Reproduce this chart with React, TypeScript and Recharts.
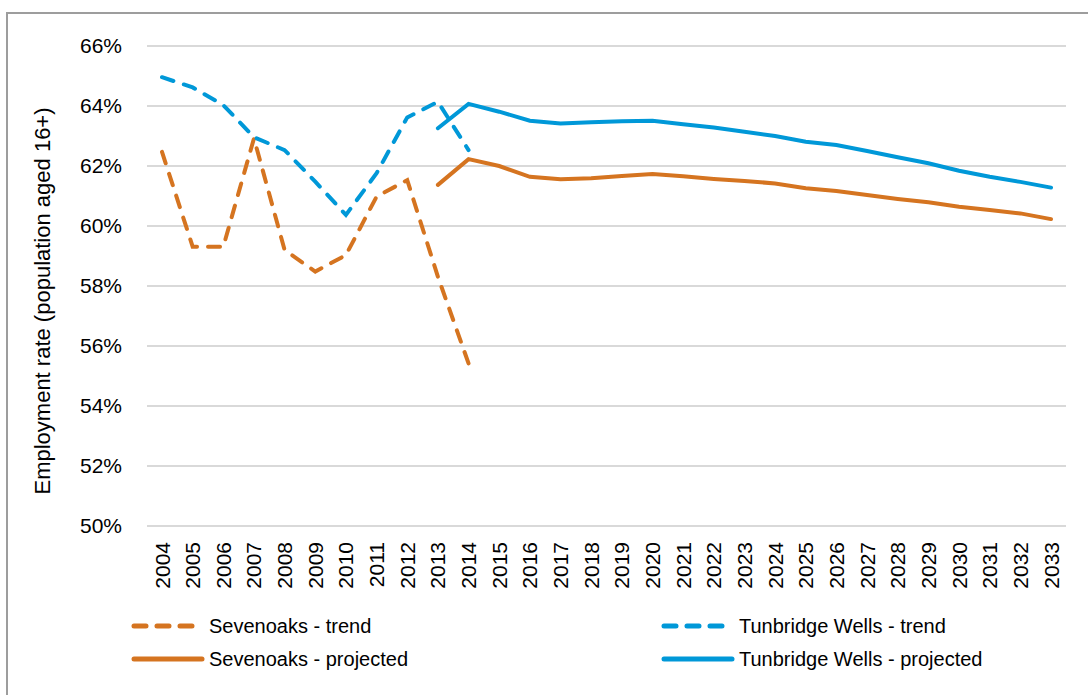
import React from 'react';
import { LineChart, Line, XAxis, YAxis, CartesianGrid, Legend } from 'recharts';

const years = [
  2004, 2005, 2006, 2007, 2008, 2009, 2010, 2011, 2012, 2013, 2014, 2015, 2016, 2017, 2018,
  2019, 2020, 2021, 2022, 2023, 2024, 2025, 2026, 2027, 2028, 2029, 2030, 2031, 2032, 2033,
];

// trend: 2004-2014
const sevenoaksTrend = [62.47, 59.31, 59.31, 62.92, 59.2, 58.48, 59.03, 60.98, 61.53, 58.31, 55.42];
const tunbridgeTrend = [64.96, 64.62, 64.03, 62.96, 62.53, 61.48, 60.37, 61.76, 63.62, 64.14, 62.53];

// projected: 2013-2033
const sevenoaksProjected = [
  61.37, 62.23, 62.0, 61.64, 61.56, 61.59, 61.67, 61.73, 61.66, 61.57, 61.5, 61.42, 61.26, 61.17,
  61.03, 60.9, 60.79, 60.64, 60.53, 60.42, 60.23,
];
const tunbridgeProjected = [
  63.26, 64.07, 63.81, 63.51, 63.42, 63.46, 63.49, 63.51, 63.39, 63.28, 63.14, 63.0, 62.81, 62.7,
  62.5, 62.29, 62.09, 61.84, 61.64, 61.47, 61.28,
];

const yTicks = [50, 52, 54, 56, 58, 60, 62, 64, 66];

const ORANGE = '#D57420';
const BLUE = '#0098D8';
const FONT = '"Liberation Sans", Arial, sans-serif';

const trendStart = 2004;
const projStart = 2013;

const data = years.map((yr) => {
  const ti = yr - trendStart;
  const pi = yr - projStart;
  return {
    year: String(yr),
    sevTrend: ti >= 0 && ti < sevenoaksTrend.length ? sevenoaksTrend[ti] : null,
    tunTrend: ti >= 0 && ti < tunbridgeTrend.length ? tunbridgeTrend[ti] : null,
    sevProj: pi >= 0 && pi < sevenoaksProjected.length ? sevenoaksProjected[pi] : null,
    tunProj: pi >= 0 && pi < tunbridgeProjected.length ? tunbridgeProjected[pi] : null,
  };
});

const legendItems = [
  { label: 'Sevenoaks - trend', color: ORANGE, dashed: true, col: 0, row: 0 },
  { label: 'Tunbridge Wells - trend', color: BLUE, dashed: true, col: 1, row: 0 },
  { label: 'Sevenoaks - projected', color: ORANGE, dashed: false, col: 0, row: 1 },
  { label: 'Tunbridge Wells - projected', color: BLUE, dashed: false, col: 1, row: 1 },
];

const XTick = (props: any) => {
  const { x, y, payload } = props;
  return (
    <text
      x={0}
      y={0}
      transform={`translate(${x},${y}) rotate(-90)`}
      textAnchor="end"
      dominantBaseline="central"
      dx={-8}
      fontSize={21}
      fontFamily={FONT}
      fill="#000"
    >
      {payload.value}
    </text>
  );
};

const LegendContent = () => (
  <svg width={1088} height={80} style={{ display: 'block' }}>
    {legendItems.map((it) => {
      const x0 = it.col === 0 ? 132 : 662;
      const cy = it.row === 0 ? 16 : 49;
      return (
        <g key={it.label}>
          <line
            x1={x0 + 2}
            y1={cy}
            x2={x0 + 70}
            y2={cy}
            stroke={it.color}
            strokeWidth={5}
            strokeLinecap="round"
            strokeDasharray={it.dashed ? '12 11' : undefined}
          />
          <text
            x={x0 + 77}
            y={cy}
            dominantBaseline="central"
            fontSize={20}
            fontFamily={FONT}
            fill="#000"
          >
            {it.label}
          </text>
        </g>
      );
    })}
  </svg>
);

const YLabel = () => (
  <text
    x={42}
    y={301}
    transform="rotate(-90 42 301)"
    textAnchor="middle"
    dominantBaseline="central"
    fontSize={22}
    fontFamily={FONT}
    fill="#000"
  >
    Employment rate (population aged 16+)
  </text>
);

export default function App() {
  return (
    <div
      style={{
        position: 'absolute',
        left: 0,
        top: 0,
        width: 1088,
        height: 695,
        overflow: 'hidden',
        background: '#fff',
      }}
    >
      <div
        style={{
          position: 'absolute',
          left: 6,
          top: 12,
          width: 1080,
          height: 720,
          border: '2px solid #9d9d9d',
        }}
      />
      <div style={{ position: 'absolute', left: 0, top: 0 }}>
        <LineChart
          width={1088}
          height={695}
          data={data}
          margin={{ top: 46, right: 22, left: 0, bottom: 89 }}
        >
          <CartesianGrid vertical={false} stroke="#d9d9d9" strokeWidth={2} />
          <XAxis
            dataKey="year"
            axisLine={false}
            tickLine={false}
            interval={0}
            height={80}
            padding={{ left: 15, right: 15 }}
            tick={<XTick />}
          />
          <YAxis
            width={147}
            domain={[50, 66]}
            ticks={yTicks}
            axisLine={false}
            tickLine={false}
            tickSize={0}
            tickMargin={25}
            tickFormatter={(v: number) => `${v}%`}
            tick={{ fontSize: 21, fontFamily: FONT, fill: '#000' }}
            label={<YLabel />}
          />
          <Legend
            layout="horizontal"
            verticalAlign="middle"
            align="center"
            content={<LegendContent />}
            wrapperStyle={{ position: 'absolute', left: 0, top: 610, width: 1088, height: 80 }}
          />
          <Line
            type="linear"
            dataKey="sevTrend"
            stroke={ORANGE}
            strokeWidth={4}
            strokeDasharray="12 11"
            strokeLinecap="round"
            dot={false}
            activeDot={false}
            isAnimationActive={false}
          />
          <Line
            type="linear"
            dataKey="tunTrend"
            stroke={BLUE}
            strokeWidth={4}
            strokeDasharray="12 11"
            strokeLinecap="round"
            dot={false}
            activeDot={false}
            isAnimationActive={false}
          />
          <Line
            type="linear"
            dataKey="sevProj"
            stroke={ORANGE}
            strokeWidth={4}
            strokeLinecap="round"
            dot={false}
            activeDot={false}
            isAnimationActive={false}
          />
          <Line
            type="linear"
            dataKey="tunProj"
            stroke={BLUE}
            strokeWidth={4}
            strokeLinecap="round"
            dot={false}
            activeDot={false}
            isAnimationActive={false}
          />
        </LineChart>
      </div>
    </div>
  );
}
